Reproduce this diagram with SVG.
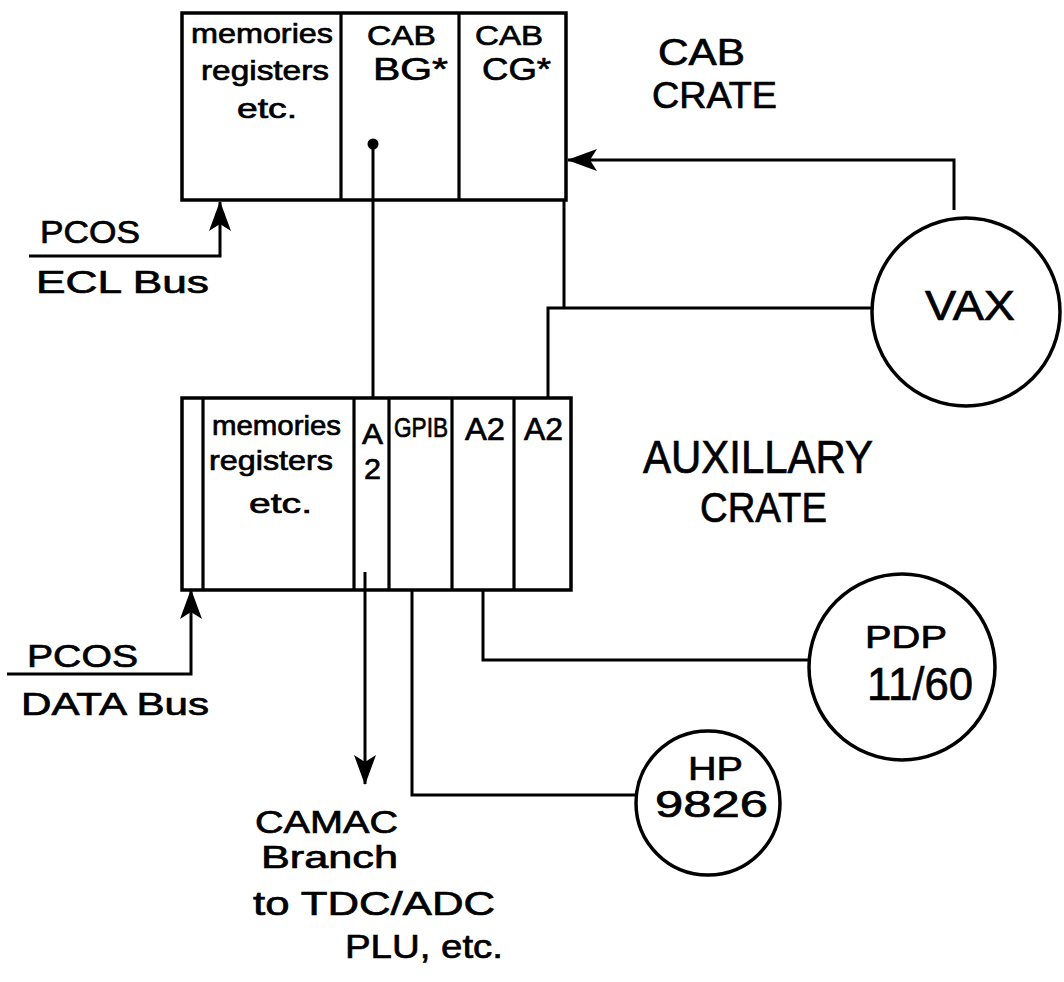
<svg xmlns="http://www.w3.org/2000/svg" width="1064" height="982" viewBox="0 0 1064 982">
<style>
.box{fill:none;stroke:#000;stroke-width:3.5}
.div{stroke:#000;stroke-width:3.2}
.ln{fill:none;stroke:#000;stroke-width:3;stroke-linejoin:miter}
.nd{fill:none;stroke:#000;stroke-width:3.5}
text{font-family:"Liberation Sans",Arial,sans-serif;fill:#000;stroke:#000;stroke-width:0.7}
.s{font-size:28px}
.m{font-size:32px}
.l{font-size:42px}
</style>
<defs>
<marker id="arrow" viewBox="0 0 30 22" refX="29" refY="11" markerWidth="30" markerHeight="22" markerUnits="userSpaceOnUse" orient="auto">
<path d="M0,0 L30,11 L0,22 L7,11 Z" fill="#000"/>
</marker>
</defs>
<rect width="1064" height="982" fill="#fff"/>

<g id="cab-crate">
<rect class="box" x="182" y="13" width="384" height="187"/>
<line class="div" x1="341" y1="13" x2="341" y2="200"/>
<line class="div" x1="459" y1="13" x2="459" y2="200"/>
<text class="s" x="191" y="43" textLength="142" lengthAdjust="spacingAndGlyphs">memories</text>
<text class="s" x="201" y="80" textLength="128" lengthAdjust="spacingAndGlyphs">registers</text>
<text class="s" x="237" y="118" textLength="60" lengthAdjust="spacingAndGlyphs">etc.</text>
<text class="s" x="367" y="45" textLength="69" lengthAdjust="spacingAndGlyphs">CAB</text>
<text class="m" x="373" y="80" textLength="75" lengthAdjust="spacingAndGlyphs">BG*</text>
<text class="s" x="475" y="45" textLength="68" lengthAdjust="spacingAndGlyphs">CAB</text>
<text class="m" x="482" y="80" textLength="69" lengthAdjust="spacingAndGlyphs">CG*</text>
<circle cx="373" cy="144" r="5.5" fill="#000"/>
</g>

<g id="cab-crate-label">
<text class="l" x="658" y="65" textLength="87" lengthAdjust="spacingAndGlyphs" style="font-size:36px">CAB</text>
<text class="l" x="652" y="108" textLength="125" lengthAdjust="spacingAndGlyphs" style="font-size:36px">CRATE</text>
</g>

<g id="aux-crate">
<rect class="box" x="182" y="398" width="389" height="192"/>
<line class="div" x1="203" y1="398" x2="203" y2="590"/>
<line class="div" x1="354" y1="398" x2="354" y2="590"/>
<line class="div" x1="389" y1="398" x2="389" y2="590"/>
<line class="div" x1="452" y1="398" x2="452" y2="590"/>
<line class="div" x1="514" y1="398" x2="514" y2="590"/>
<text class="s" x="212" y="435" textLength="129" lengthAdjust="spacingAndGlyphs">memories</text>
<text class="s" x="209" y="470" textLength="124" lengthAdjust="spacingAndGlyphs">registers</text>
<text class="s" x="249" y="513" textLength="63" lengthAdjust="spacingAndGlyphs">etc.</text>
<text class="m" x="362" y="444" textLength="21" lengthAdjust="spacingAndGlyphs" style="font-size:30px">A</text>
<text class="m" x="364" y="479" textLength="17" lengthAdjust="spacingAndGlyphs" style="font-size:30px">2</text>
<text class="m" x="394" y="437" textLength="54" lengthAdjust="spacingAndGlyphs" style="font-size:27px">GPIB</text>
<text class="m" x="465" y="440" textLength="40" lengthAdjust="spacingAndGlyphs">A2</text>
<text class="m" x="524" y="440" textLength="39" lengthAdjust="spacingAndGlyphs">A2</text>
</g>

<g id="aux-crate-label">
<text class="l" x="643" y="473" textLength="230" lengthAdjust="spacingAndGlyphs" style="font-size:46px">AUXILLARY</text>
<text class="l" x="700" y="522" textLength="127" lengthAdjust="spacingAndGlyphs">CRATE</text>
</g>

<g id="vax">
<circle class="nd" cx="966" cy="312" r="94"/>
<text class="l" x="925" y="320" textLength="90" lengthAdjust="spacingAndGlyphs">VAX</text>
</g>

<g id="pdp">
<circle class="nd" cx="902" cy="667" r="93"/>
<text class="m" x="865" y="648" textLength="82" lengthAdjust="spacingAndGlyphs">PDP</text>
<text class="l" x="867" y="700" textLength="106" lengthAdjust="spacingAndGlyphs" style="font-size:46px">11/60</text>
</g>

<g id="hp">
<circle class="nd" cx="708" cy="803" r="72"/>
<text class="m" x="688" y="780" textLength="55" lengthAdjust="spacingAndGlyphs" style="font-size:34px">HP</text>
<text class="m" x="655" y="817" textLength="113" lengthAdjust="spacingAndGlyphs" style="font-size:36px">9826</text>
</g>

<g id="pcos-ecl">
<text class="m" x="40" y="243" textLength="100" lengthAdjust="spacingAndGlyphs">PCOS</text>
<text class="m" x="36" y="293" textLength="173" lengthAdjust="spacingAndGlyphs">ECL Bus</text>
</g>

<g id="pcos-data">
<text class="m" x="27" y="667" textLength="111" lengthAdjust="spacingAndGlyphs">PCOS</text>
<text class="m" x="21" y="715" textLength="188" lengthAdjust="spacingAndGlyphs">DATA Bus</text>
</g>

<g id="camac-label">
<text class="m" x="255" y="833" textLength="143" lengthAdjust="spacingAndGlyphs">CAMAC</text>
<text class="m" x="261" y="868" textLength="137" lengthAdjust="spacingAndGlyphs">Branch</text>
<text class="m" x="253" y="915" textLength="242" lengthAdjust="spacingAndGlyphs" style="font-size:34px">to TDC/ADC</text>
<text class="m" x="345" y="958" textLength="158" lengthAdjust="spacingAndGlyphs" style="font-size:34px">PLU, etc.</text>
</g>

<g id="connectors">
<line class="ln" x1="373" y1="144" x2="373" y2="398"/>
<polyline class="ln" points="29,256 220,256 220,202" marker-end="url(#arrow)"/>
<polyline class="ln" points="954,210 954,160 568,160" marker-end="url(#arrow)"/>
<line class="ln" x1="564" y1="200" x2="564" y2="308"/>
<polyline class="ln" points="872,308 548,308 548,398"/>
<polyline class="ln" points="7,674 191,674 191,590" marker-end="url(#arrow)"/>
<line class="ln" x1="365" y1="572" x2="365" y2="784" marker-end="url(#arrow)"/>
<polyline class="ln" points="412,590 412,795 636,795"/>
<polyline class="ln" points="483,590 483,660 809,660"/>
</g>
</svg>
